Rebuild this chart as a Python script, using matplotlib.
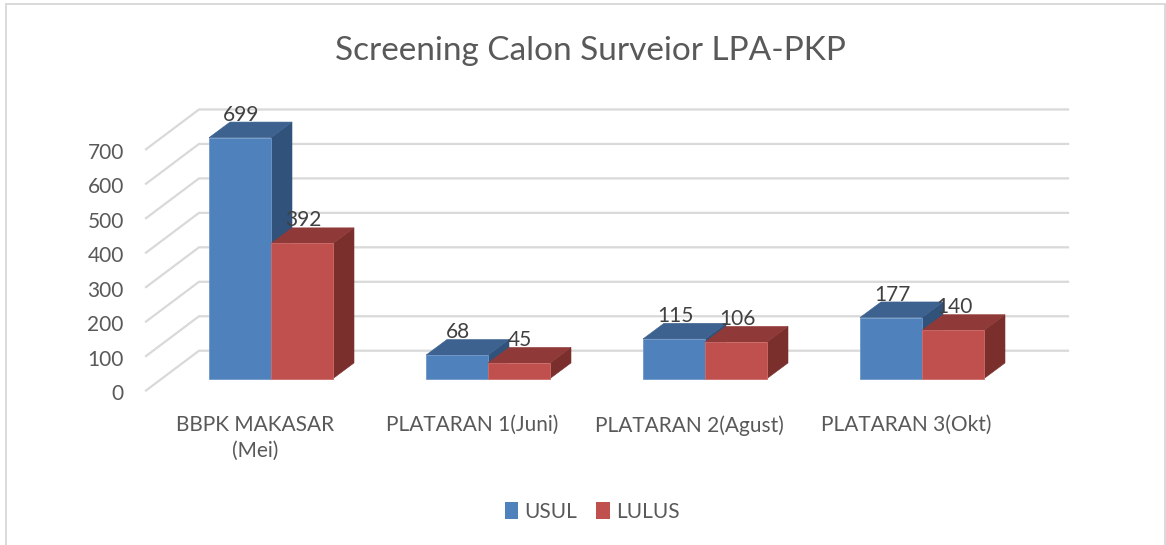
import matplotlib
matplotlib.use("Agg")
import matplotlib.pyplot as plt
from matplotlib.patches import Patch, Polygon, Rectangle

plt.rcParams['font.family'] = ['Lato', 'DejaVu Sans']

categories = ["BBPK MAKASAR\n(Mei)", "PLATARAN 1(Juni)", "PLATARAN 2(Agust)", "PLATARAN 3(Okt)"]
usul = [699, 68, 115, 177]
lulus = [392, 45, 106, 140]
y_ticks = [0, 100, 200, 300, 400, 500, 600, 700]

W, H = 1166, 545
PX_X = 217.0      # pixels per category
PX_Y = 0.3464     # pixels per value unit
bar_w = 62 / PX_X
dep_x = 21 / PX_X
dep_y = 15.7 / PX_Y
floor_front = -12 / PX_Y
floor_back = 28 / PX_Y
wall_x0 = (146 - 271) / PX_X
wall_x1 = (199 - 271) / PX_X
wall_x2 = (1068 - 271) / PX_X

fig = plt.figure(figsize=(W / 100, H / 100), dpi=100)
fig.patches.append(Rectangle((5.5 / W, -0.01), (1164.5 - 5.5) / W, 1 - 3.5 / H + 0.01,
                             transform=fig.transFigure, fc="white", ec="#d9d9d9", lw=1.4,
                             zorder=-1))

# axes box runs from the front floor corner to the end of the back wall
left, right, top, bottom = 146, 1068, 100, 392
ax = fig.add_axes([left / W, 1 - bottom / H, (right - left) / W, (bottom - top) / H])
ax.patch.set_visible(False)
ax.set_xlim(wall_x0, wall_x2)
ax.set_ylim(floor_front, floor_front + (bottom - top) / PX_Y)
for s in ax.spines.values():
    s.set_visible(False)

for v in y_ticks:
    ax.plot([wall_x0, wall_x1, wall_x2],
            [v + floor_front, v + floor_back, v + floor_back],
            color="#d9d9d9", lw=1.6, clip_on=False, zorder=1, solid_joinstyle="miter")


def draw_bar(x, val, front, roof, side, edge, z):
    ax.add_patch(Polygon([(x + bar_w, 0), (x + bar_w + dep_x, dep_y),
                          (x + bar_w + dep_x, val + dep_y), (x + bar_w, val)],
                         fc=side, ec=side, lw=0.4, clip_on=False, zorder=z))
    ax.add_patch(Polygon([(x, val), (x + dep_x, val + dep_y),
                          (x + bar_w + dep_x, val + dep_y), (x + bar_w, val)],
                         fc=roof, ec=roof, lw=0.4, clip_on=False, zorder=z))
    ax.bar(x, val, width=bar_w, align="edge", color=front, edgecolor=edge, lw=0.6,
           clip_on=False, zorder=z + 0.1)


for i in range(len(categories)):
    draw_bar(i - bar_w, usul[i], "#4f81bd", "#3d6290", "#31527a", "#6f97c8", 2 + i)
    draw_bar(i, lulus[i], "#c0504d", "#8f3a38", "#7a2f2d", "#cd6d6a", 2.5 + i)
    ax.annotate(str(usul[i]), (i - bar_w / 2, usul[i]), xytext=(0.7, 16.6),
                textcoords="offset points", ha="center", va="center",
                fontsize=15, color="#404040", zorder=10, annotation_clip=False)
    ax.annotate(str(lulus[i]), (i + bar_w / 2, lulus[i]), xytext=(0.7, 16.6),
                textcoords="offset points", ha="center", va="center",
                fontsize=15, color="#404040", zorder=10, annotation_clip=False)

# tick labels sit a little off the marks in the reference, ticks themselves are hidden
ax.set_yticks([v + floor_front - 1.5 / PX_Y for v in y_ticks])
ax.set_yticklabels([str(v) for v in y_ticks], fontsize=15, color="#595959")
ax.set_xticks([i - 16 / PX_X for i in range(len(categories))])
ax.set_xticklabels(categories, fontsize=15, color="#595959", linespacing=1.38)
ax.tick_params(axis="y", length=0, pad=16)
ax.tick_params(axis="x", length=0, pad=16.5)

fig.text(590 / W, 1 - 51 / H, "Screening Calon Surveior LPA-PKP", ha="center", va="center",
         fontsize=24, color="#595959")

handles = [Patch(fc="#4f81bd", label="USUL"), Patch(fc="#c0504d", label="LULUS")]
fig.legend(handles=handles, loc="center", bbox_to_anchor=(592 / W, 1 - 512 / H), ncol=2,
           frameon=False, fontsize=15, labelcolor="#595959", handlelength=0.65,
           handleheight=0.85, handletextpad=0.3, columnspacing=0.9)

fig.savefig("out.png", dpi=100)
